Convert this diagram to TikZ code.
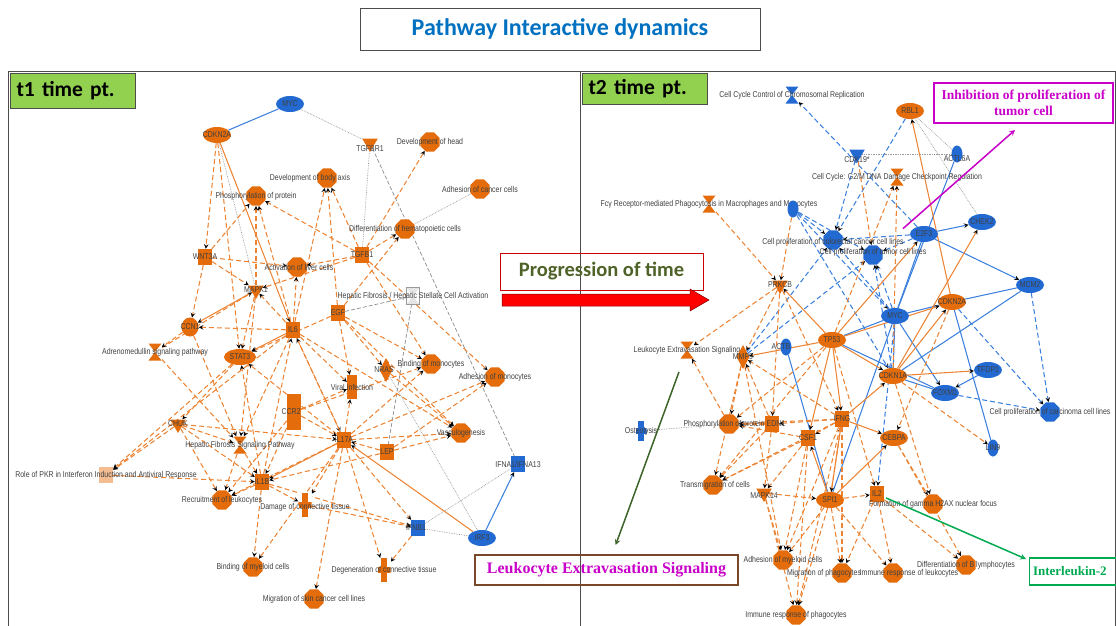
\documentclass[tikz,border=0pt]{standalone}
\usepackage{fontspec}
\usepackage[dvipsnames]{xcolor}
\usetikzlibrary{shapes,positioning,backgrounds}
\newfontfamily\labfont[FakeStretch=0.82]{Liberation Sans}
\newfontfamily\calfont{Carlito}
\newfontfamily\tmsfont{Liberation Serif}
\definecolor{orng}{RGB}{228,108,10}
\definecolor{orngl}{RGB}{236,132,52}
\definecolor{blu}{RGB}{35,105,210}
\definecolor{blul}{RGB}{60,128,222}
\definecolor{ttlblue}{RGB}{0,112,192}
\definecolor{xlgreen}{RGB}{146,208,80}
\definecolor{progtext}{RGB}{79,98,40}
\definecolor{magent}{RGB}{200,0,200}
\definecolor{brwn}{RGB}{120,72,40}
\definecolor{ilgreen}{RGB}{0,170,80}
\definecolor{dkgreen}{RGB}{60,100,40}

\begin{document}
\begin{tikzpicture}[x=1pt,y=-1pt,>=stealth,
  lab/.style={font=\labfont\fontsize{8.5}{9}\selectfont,text=black!75,inner sep=0pt},
  fn/.style={regular polygon,regular polygon sides=8,fill=#1,minimum size=21pt,inner sep=0pt},
  fn/.default=orng,
  gene/.style={ellipse,fill=#1,minimum width=28pt,minimum height=16pt,inner sep=0pt},
  gene/.default=orng,
  sgene/.style={ellipse,fill=#1,minimum width=11pt,minimum height=17pt,inner sep=0pt},
  sgene/.default=blu,
  sq/.style={rectangle,fill=#1,minimum width=14pt,minimum height=16pt,inner sep=0pt},
  sq/.default=orng,
  kin/.style={regular polygon,regular polygon sides=3,shape border rotate=180,fill=#1,minimum size=18pt,inner sep=0pt},
  kin/.default=orng,
  enz/.style={diamond,fill=#1,minimum width=13pt,minimum height=24pt,inner sep=0pt},
  enz/.default=orng,
  hg/.style={rectangle,fill=white,minimum width=13pt,minimum height=17pt,inner sep=0pt,
    path picture={\fill[#1] (path picture bounding box.north west) -- (path picture bounding box.north east) -- (path picture bounding box.south west) -- (path picture bounding box.south east) -- cycle;}},
  hg/.default=orng,
  crs/.style={rectangle,fill=white,minimum width=13pt,minimum height=24pt,inner sep=0pt,
    path picture={\fill[#1] ([xshift=-3pt]path picture bounding box.north) rectangle ([xshift=3pt]path picture bounding box.south);
      \fill[#1] ([yshift=3pt]path picture bounding box.west) rectangle ([yshift=-3pt]path picture bounding box.east);}},
  crs/.default=orng,
  orgsolid/.style={draw=orngl,line width=1.05pt,->},
  orgdash/.style={draw=orngl,line width=1.05pt,dash pattern=on 5pt off 3pt,->},
  blusolid/.style={draw=blul,line width=1.05pt,->},
  bludash/.style={draw=blul,line width=1.05pt,dash pattern=on 5pt off 3pt,->},
  reldot/.style={draw=black!40,line width=0.7pt,densely dotted},
  gdashed/.style={draw=black!45,line width=0.7pt,dash pattern=on 4pt off 2pt},
  panel/.style={draw=black!70,line width=1pt},
  callout/.style={line width=1.5pt,->}]

\useasboundingbox (0,0) rectangle (1116,626);

% frames and headings
\draw[panel] (8,72) rectangle (580,640);
\draw[panel] (580,72) rectangle (1115,640);
\node[draw=black!70,minimum width=400pt,minimum height=42pt,text=ttlblue,font=\calfont\bfseries\fontsize{24}{28}\selectfont] (title) at (560,29) {Pathway Interactive dynamics};
\node[draw=black!70,fill=xlgreen,minimum width=125pt,minimum height=35pt,font=\calfont\bfseries\fontsize{21.5}{24}\selectfont,text width=112pt,align=left] (t1) at (72.5,90.5) {t1 time pt.};
\node[draw=black!70,fill=xlgreen,minimum width=125pt,minimum height=31pt,font=\calfont\bfseries\fontsize{21.5}{24}\selectfont,text width=112pt,align=left] (t2) at (644.5,88.5) {t2 time pt.};
\node[draw=red!80!black,line width=1pt,minimum width=203pt,minimum height=37pt,text=progtext,font=\calfont\bfseries\fontsize{20.5}{23}\selectfont] (prog) at (601.5,271.5) {Progression of time};
\fill[red,draw=red!50!black,line width=0.5pt] (502,294) -- (690,294) -- (690,289) -- (709,300) -- (690,311) -- (690,306) -- (502,306) -- cycle;

% t1 network
\node[gene=blu,label={[lab]center:MYC}] (mycA) at (290,104) {};
\node[gene,label={[lab]center:CDKN2A}] (cdkn2aA) at (217,135) {};
\node[kin,label={[lab,yshift=-6pt]center:TGFBR1}] (tgfbr1) at (370,143) {};
\node[fn,label={[lab]center:Development of head}] (devhead) at (430,142) {};
\node[fn,label={[lab,xshift=-17pt]center:Development of body axis}] (bodyax) at (327,178) {};
\node[fn,label={[lab]center:Adhesion of cancer cells}] (adhcanc) at (480,189) {};
\node[fn,label={[lab]center:Phosphorylation of protein}] (phospA) at (256,196) {};
\node[fn,label={[lab]center:Differentiation of hematopoietic cells}] (diffhem) at (405,229) {};
\node[sq,label={[lab]center:WNT3A}] (wnt3a) at (205,257) {};
\node[fn,label={[lab,xshift=2pt]center:Activation of liver cells}] (actliv) at (297,267) {};
\node[sq,label={[lab]center:TGFB1}] (tgfb1) at (362,255) {};
\node[kin,label={[lab]center:MAPK1}] (mapk1) at (256,290) {};
\node[hg=black!10,draw=black!40,label={[lab]center:Hepatic Fibrosis / Hepatic Stellate Cell Activation}] (hsc) at (413,296) {};
\node[sq,label={[lab]center:EGF}] (egf) at (338,313) {};
\node[sq,label={[lab]center:IL6}] (il6) at (293,330) {};
\node[gene,minimum width=17pt,minimum height=19pt,label={[lab]center:CCN1}] (ccn1) at (190,327) {};
\node[hg,label={[lab]center:Adrenomedullin signaling pathway}] (adm) at (155,352) {};
\node[gene,minimum width=32pt,label={[lab]center:STAT3}] (stat3) at (240,357) {};
\node[enz,label={[lab,xshift=-2pt]center:NRAS}] (nras) at (386,370) {};
\node[fn,label={[lab]center:Binding of monocytes}] (bindmono) at (431,364) {};
\node[fn,label={[lab]center:Adhesion of monocytes}] (adhmono) at (495,377) {};
\node[sq,minimum width=10pt,minimum height=24pt,label={[lab]center:Viral Infection}] (viral) at (352,387) {};
\node[sq,minimum width=14pt,minimum height=36pt,label={[lab,xshift=-3pt]center:CCR2}] (ccr2) at (294,412) {};
\node[kin,label={[lab]center:CHUK}] (chuk) at (178,424) {};
\node[hg,label={[lab]center:Hepatic Fibrosis Signaling Pathway}] (hfsp) at (240,445) {};
\node[sq,label={[lab]center:IL17A}] (il17a) at (344,440) {};
\node[fn,label={[lab]center:Vasculogenesis}] (vasc) at (461,433) {};
\node[sq,label={[lab]center:LEP}] (lep) at (387,452) {};
\node[sq=orng!45,label={[lab]center:Role of PKR in Interferon Induction and Antiviral Response}] (pkr) at (106,475) {};
\node[sq,label={[lab]center:IL1B}] (il1b) at (262,482) {};
\node[sq=blu,label={[lab]center:IFNA1/IFNA13}] (ifna) at (518,464) {};
\node[fn,label={[lab]center:Recruitment of leukocytes}] (recruit) at (222,500) {};
\node[crs,label={[lab,yshift=-2pt]center:Damage of connective tissue}] (damage) at (305,505) {};
\node[sq=blu,label={[lab,xshift=-2pt]center:IFNB1}] (ifnb1) at (418,528) {};
\node[gene=blu,label={[lab]center:IRF3}] (irf3) at (482,538) {};
\node[fn,label={[lab]center:Binding of myeloid cells}] (bindmyel) at (253,567) {};
\node[crs,label={[lab]center:Degeneration of connective tissue}] (degen) at (384,570) {};
\node[fn,label={[lab]center:Migration of skin cancer cell lines}] (migskin) at (314,599) {};

% t2 network
\node[hg=blu,label={[lab]center:Cell Cycle Control of Chromosomal Replication}] (cccr) at (792,95) {};
\node[gene,label={[lab]center:RBL1}] (rbl1) at (910,111) {};
\node[kin=blu,label={[lab,yshift=-6pt]center:CDK19*}] (cdk19) at (857,154) {};
\node[sgene,label={[lab,yshift=-5pt]center:ACTL6A}] (actl6a) at (957,154) {};
\node[hg,label={[lab]center:Cell Cycle: G2/M DNA Damage Checkpoint Regulation}] (g2m) at (897,177) {};
\node[hg,label={[lab]center:Fcγ Receptor-mediated Phagocytosis in Macrophages and Monocytes}] (fcg) at (709,204) {};
\node[sgene] (rac1) at (793,209) {};
\node[fn=blu,label={[lab,yshift=-2pt]center:Cell proliferation of colorectal cancer cell lines}] (colrec) at (833,240) {};
\node[fn=blu,label={[lab,yshift=3pt]center:Cell proliferation of tumor cell lines}] (tumcl) at (873,255) {};
\node[gene=blu,label={[lab]center:E2F3}] (e2f3) at (924,234) {};
\node[gene=blu,label={[lab]center:CHEK2}] (chek2) at (982,222) {};
\node[kin,label={[lab]center:PRKCB}] (prkcb) at (780,285) {};
\node[gene,label={[lab]center:CDKN2A}] (cdkn2aB) at (952,302) {};
\node[gene=blu,label={[lab]center:MYC}] (mycB) at (895,316) {};
\node[gene=blu,label={[lab]center:MCM2}] (mcm2) at (1030,285) {};
\node[hg,label={[lab]center:Leukocyte Extravasation Signaling}] (les) at (687,350) {};
\node[enz,label={[lab]center:MMP9}] (mmp9) at (743,357) {};
\node[sgene,label={[lab,xshift=-5pt]center:ACTB}] (actb) at (786,347) {};
\node[gene,label={[lab]center:TP53}] (tp53) at (832,340) {};
\node[gene=blu,label={[lab]center:TFDP1}] (tfdp1) at (988,370) {};
\node[gene,label={[lab]center:CDKN1A}] (cdkn1a) at (893,376) {};
\node[gene=blu,label={[lab]center:FOXM1}] (foxm1) at (945,393) {};
\node[fn=blu,label={[lab]center:Cell proliferation of carcinoma cell lines}] (carc) at (1050,412) {};
\node[sgene,label={[lab]center:LIN9}] (lin9) at (993,448) {};
\node[crs=blu,minimum width=11pt,minimum height=20pt,label={[lab]center:Osteolysis}] (osteo) at (641,431) {};
\node[fn,label={[lab,xshift=-5pt]center:Phosphorylation of protein}] (phospB) at (729,424) {};
\node[sq,label={[lab,xshift=4pt]center:EDN1}] (edn1) at (772,424) {};
\node[sq,label={[lab]center:IFNG}] (ifng) at (842,419) {};
\node[sq,label={[lab]center:CSF1}] (csf1) at (808,438) {};
\node[gene,label={[lab]center:CEBPA}] (cebpa) at (894,438) {};
\node[fn,label={[lab,xshift=2pt]center:Transmigration of cells}] (transm) at (713,485) {};
\node[kin,label={[lab,yshift=-3pt]center:MAPK14}] (mapk14) at (764,493) {};
\node[gene,label={[lab]center:SPI1}] (spi1) at (830,500) {};
\node[sq,label={[lab]center:IL2}] (il2) at (877,494) {};
\node[fn,label={[lab]center:Formation of gamma H2AX nuclear focus}] (gamma) at (933,504) {};
\node[fn,label={[lab]center:Adhesion of myeloid cells}] (adhmy) at (783,560) {};
\node[fn,label={[lab,xshift=16pt]center:Immune response of leukocytes}] (immleu) at (893,573) {};
\node[fn,label={[lab,xshift=-18pt]center:Migration of phagocytes}] (migph) at (842,573) {};
\node[fn,label={[lab]center:Differentiation of B lymphocytes}] (diffb) at (966,565) {};
\node[fn,label={[lab]center:Immune response of phagocytes}] (immph) at (796,615) {};

% callout boxes
\node[draw=magent,line width=1.2pt,minimum width=179pt,minimum height=40pt,text=magent,align=center,font=\tmsfont\bfseries\fontsize{13.5}{16}\selectfont] (inhib) at (1023.5,103) {Inhibition of proliferation of\\tumor cell};
\node[draw=brwn,line width=1.2pt,minimum width=263pt,minimum height=30pt,text=magent,font=\tmsfont\bfseries\fontsize{16}{18}\selectfont] (lesbox) at (606.5,570) {Leukocyte Extravasation Signaling};
\node[draw=ilgreen,line width=1.2pt,minimum width=90pt,minimum height=27pt,text=ilgreen,text width=84pt,align=left,font=\tmsfont\bfseries\fontsize{13}{15}\selectfont] (ilbox) at (1075,571.5) {Interleukin-2};
\coordinate (inhtip) at (1015,130);
\coordinate (iltip) at (1026,559);

\begin{scope}[on background layer]
% t1 edges
\path[blusolid,-] (mycA) edge (cdkn2aA);
\path[blusolid] (irf3) edge (ifna);
\path[reldot] (mycA) edge (tgfbr1) (tgfbr1) edge (tgfb1) (diffhem) edge (adhcanc)
  (cdkn2aA) edge (mapk1) (nras) edge (irf3) (irf3) edge (ifnb1) (ifnb1) edge (ifna);
\path[gdashed] (tgfbr1) edge (ifna) (egf) edge (hsc) (hsc) edge (lep);
\path[orgsolid] (cdkn2aA) edge (il6) (il6) edge (stat3) (mapk1) edge (ccn1)
  (irf3) edge (il17a) (il17a) edge (il1b);
\path[orgdash]
  (cdkn2aA) edge (wnt3a) (cdkn2aA) edge (stat3)
  (wnt3a) edge (phospA) (mapk1) edge (phospA) (il6) edge (phospA) (tgfb1) edge (phospA)
  (il6) edge (bodyax) (egf) edge (bodyax) (tgfb1) edge (bodyax)
  (tgfb1) edge (devhead) (tgfb1) edge (diffhem) (egf) edge (diffhem)
  (wnt3a) edge (actliv) (tgfb1) edge (actliv) (il6) edge (actliv)
  (tgfb1) edge (mapk1) (il6) edge (mapk1) (wnt3a) edge (mapk1) (adm) edge (mapk1)
  (wnt3a) edge (ccn1) (ccn1) edge (adm) (il6) edge (ccn1)
  (mapk1) edge (stat3) (egf) edge (stat3) (il17a) edge (stat3) (il1b) edge (stat3)
  (adm) edge (hfsp) (mapk1) edge (hfsp) (chuk) edge (hfsp) (il6) edge (hfsp) (ccn1) edge (hfsp)
  (stat3) edge (chuk) (chuk) edge (il1b) (chuk) edge (il17a)
  (stat3) edge (pkr) (chuk) edge (pkr) (il6) edge (pkr) (pkr) edge (il1b)
  (il6) edge (il17a) (ccr2) edge (il17a) (il17a) edge (viral) (il17a) edge (il6)
  (il17a) edge (recruit) (il17a) edge (damage) (il17a) edge (bindmyel) (il17a) edge (migskin)
  (il17a) edge (degen) (il17a) edge (ifnb1) (il17a) edge (vasc) (il17a) edge (adhmono) (il17a) edge (bindmono)
  (lep) edge (il17a) (lep) edge (il1b) (lep) edge (vasc) (lep) edge (adhmono)
  (il1b) edge (recruit) (il1b) edge (damage) (il1b) edge (bindmyel) (il1b) edge (ifnb1) (il1b) edge (il6)
  (damage) edge (ifnb1) (ifnb1) edge (degen) (chuk) edge (recruit)
  (ccr2) edge (viral) (ccr2) edge (recruit) (ccr2) edge (il1b) (ccr2) edge (bindmono)
  (egf) edge (viral) (il6) edge (viral) (egf) edge (bindmono) (egf) edge (vasc)
  (tgfb1) edge (adhmono) (tgfb1) edge (bindmono) (il6) edge (vasc) (nras) edge (vasc) (egf) edge (nras)
  (hfsp) edge (il1b) (hfsp) edge (recruit);
% t2 edges
\path[reldot] (rbl1) edge (actl6a) (rbl1) edge (chek2) (cdk19) edge (actl6a) (phospB) edge (osteo);
\path[bludash] (e2f3) edge (cccr) (rbl1) edge (colrec) (rac1) edge (colrec) (rac1) edge (tumcl)
  (rac1) edge (cdkn1a) (rac1) edge (mycB) (e2f3) edge (colrec) (e2f3) edge (tumcl)
  (mmp9) edge (colrec) (mmp9) edge (tumcl) (mycB) edge (tumcl) (mycB) edge (colrec)
  (cdkn1a) edge (tumcl) (cdkn2aB) edge (carc) (mcm2) edge (carc) (foxm1) edge (carc)
  (mycB) edge (il2) (cdk19) edge (colrec);
\path[blusolid] (e2f3) edge (chek2) (e2f3) edge (mcm2) (tfdp1) edge (foxm1) (mycB) edge (foxm1);
\path[blusolid,-] (actl6a) edge (mycB) (e2f3) edge (mycB) (tp53) edge (mycB) (mycB) edge (cdkn2aB)
  (mycB) edge (cdkn1a) (mycB) edge (spi1) (cdkn2aB) edge (mcm2) (cdkn2aB) edge (lin9)
  (cdkn1a) edge (foxm1) (mcm2) edge (cdkn1a) (actb) edge (spi1) (tp53) edge (foxm1);
\path[orgsolid] (cdkn2aB) edge (rbl1) (tp53) edge (prkcb) (tp53) edge (mmp9) (tp53) edge (cdkn1a)
  (cdkn1a) edge (cdkn2aB) (cdkn1a) edge (tfdp1) (ifng) edge (cdkn1a) (ifng) edge (cebpa)
  (spi1) edge (cebpa) (spi1) edge (csf1) (cdkn1a) edge (chek2) (tp53) edge (e2f3)
  (tp53) edge (ifng) (tp53) edge (cdkn2aB) (spi1) edge (ifng) (tp53) edge (csf1);
\path[orgdash] (fcg) edge (prkcb) (rac1) edge (prkcb) (prkcb) edge (les) (prkcb) edge (edn1)
  (prkcb) edge (ifng) (prkcb) edge (mmp9) (tp53) edge (g2m) (cdkn1a) edge (g2m) (cdk19) edge (tumcl)
  (phospB) edge (les) (mmp9) edge (phospB) (mmp9) edge (transm) (mmp9) edge (adhmy)
  (edn1) edge (phospB) (edn1) edge (mmp9) (ifng) edge (edn1) (ifng) edge (phospB) (ifng) edge (mmp9)
  (ifng) edge (csf1) (ifng) edge (transm) (ifng) edge (adhmy) (ifng) edge (migph) (ifng) edge (immph)
  (ifng) edge (spi1) (csf1) edge (transm) (csf1) edge (adhmy) (csf1) edge (phospB) (csf1) edge (immph)
  (csf1) edge (mapk14) (edn1) edge (transm) (edn1) edge (mapk14) (mapk14) edge (adhmy)
  (mapk14) edge (spi1) (spi1) edge (il2) (spi1) edge (adhmy) (spi1) edge (migph) (spi1) edge (immleu)
  (spi1) edge (immph) (il2) edge (migph) (il2) edge (immleu) (il2) edge (diffb)
  (cebpa) edge (gamma) (cebpa) edge (diffb) (cdkn1a) edge (gamma) (cdkn1a) edge (lin9)
  (tp53) edge (phospB) (tp53) edge (il2) (tp53) edge (transm) (mapk14) edge (immph) (cdkn2aB) edge (cebpa);
\end{scope}

% callout arrows
\draw[callout,draw=magent,shorten <=30pt] (tumcl) -- (inhtip);
\draw[callout,draw=dkgreen,shorten <=14pt,shorten >=10pt] (les) -- (lesbox);
\draw[callout,draw=ilgreen,shorten <=2pt] (il2) -- (iltip);
\end{tikzpicture}
\end{document}
